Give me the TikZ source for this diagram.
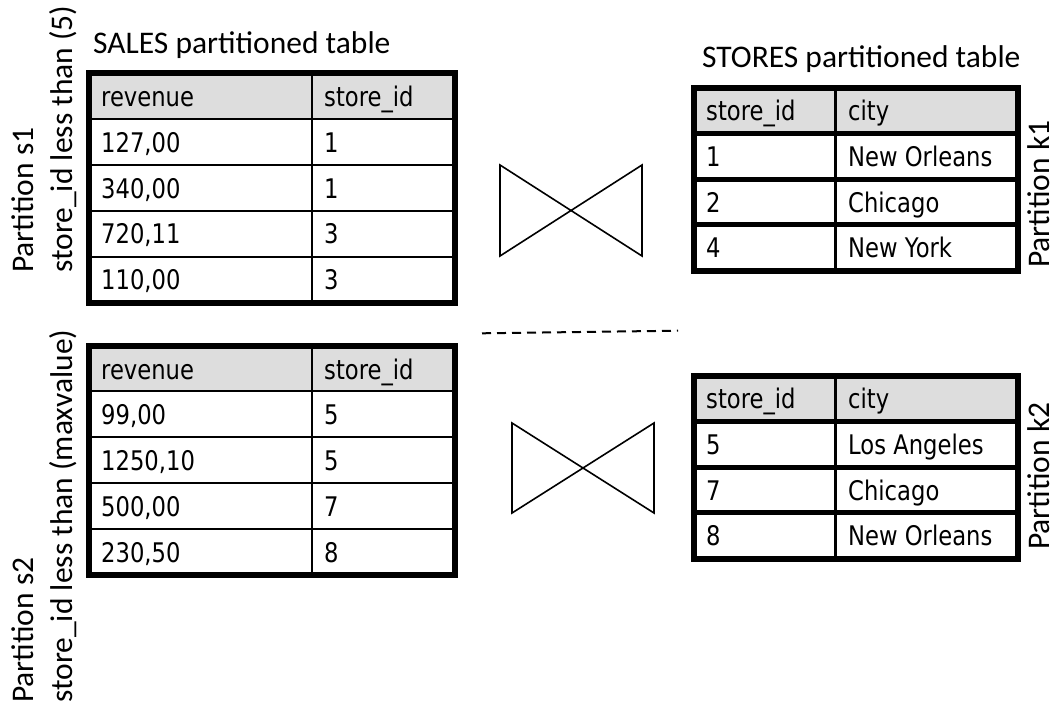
\documentclass[tikz,border=0pt]{standalone}
\usepackage{fontspec}
\setmainfont{Carlito}
\newfontfamily\tabfont[FakeStretch=0.84]{DejaVu Sans}
\definecolor{hdrgray}{RGB}{221,221,221}
\tikzset{
  lbl/.style={inner sep=0pt, anchor=base west, font=\fontsize{31.5}{38}\selectfont},
  vlbl/.style={lbl, rotate=90},
  cell/.style={inner sep=0pt, anchor=base west, font=\tabfont\fontsize{27}{32}\selectfont},
  outerframe/.style={line width=6pt},
  thinrule/.style={line width=2pt},
  thickrule/.style={line width=5pt},
  colrule/.style={line width=3pt},
  bowtie/.style={line width=1.6pt, line join=miter},
  sep/.style={line width=2pt, dash pattern=on 9pt off 6pt},
}
\begin{document}
\begin{tikzpicture}[x=1pt,y=-1pt]
\useasboundingbox (0,0) rectangle (1057,706);

% ---------- SALES partition s1 ----------
\fill[hdrgray] (88.5,73.5) rectangle (454.5,119.3);
\foreach \yy in {119.3,165.1,210.9,256.7} \draw[thinrule] (88.5,\yy) -- (454.5,\yy);
\draw[thinrule] (312,73.5) -- (312,302.5);
\draw[outerframe] (88.5,73.5) rectangle (454.5,302.5);
\node[cell] (sa0a) at (101,106.4) {revenue};
\node[cell] (sa0b) at (324,106.4) {store\_id};
\node[cell] (sa1a) at (101,152.2) {127,00};
\node[cell] (sa1b) at (324,152.2) {1};
\node[cell] (sa2a) at (101,198.0) {340,00};
\node[cell] (sa2b) at (324,198.0) {1};
\node[cell] (sa3a) at (101,243.8) {720,11};
\node[cell] (sa3b) at (324,243.8) {3};
\node[cell] (sa4a) at (101,289.6) {110,00};
\node[cell] (sa4b) at (324,289.6) {3};

% ---------- SALES partition s2 ----------
\fill[hdrgray] (88.5,345.5) rectangle (454.5,391.4);
\foreach \yy in {391.4,437.3,483.2,529.1} \draw[thinrule] (88.5,\yy) -- (454.5,\yy);
\draw[thinrule] (312,345.5) -- (312,575);
\draw[outerframe] (88.5,345.5) rectangle (454.5,575);
\node[cell] (sb0a) at (101,379) {revenue};
\node[cell] (sb0b) at (324,379) {store\_id};
\node[cell] (sb1a) at (101,424.9) {99,00};
\node[cell] (sb1b) at (324,424.9) {5};
\node[cell] (sb2a) at (101,470.8) {1250,10};
\node[cell] (sb2b) at (324,470.8) {5};
\node[cell] (sb3a) at (101,516.7) {500,00};
\node[cell] (sb3b) at (324,516.7) {7};
\node[cell] (sb4a) at (101,562.6) {230,50};
\node[cell] (sb4b) at (324,562.6) {8};

% ---------- STORES partition k1 ----------
\fill[hdrgray] (693.5,88) rectangle (1018,133.6);
\foreach \yy in {133.6,179.2,224.8} \draw[thickrule] (693.5,\yy) -- (1018,\yy);
\draw[colrule] (835.5,88) -- (835.5,270.5);
\draw[outerframe] (693.5,88) rectangle (1018,270.5);
\node[cell] (ka0a) at (706,120.8) {store\_id};
\node[cell] (ka0b) at (848,120.8) {city};
\node[cell] (ka1a) at (706,166.4) {1};
\node[cell] (ka1b) at (848,166.4) {New Orleans};
\node[cell] (ka2a) at (706,212) {2};
\node[cell] (ka2b) at (848,212) {Chicago};
\node[cell] (ka3a) at (706,257.6) {4};
\node[cell] (ka3b) at (848,257.6) {New York};

% ---------- STORES partition k2 ----------
\fill[hdrgray] (693.5,376) rectangle (1018,421.6);
\foreach \yy in {421.6,467.2,512.8} \draw[thickrule] (693.5,\yy) -- (1018,\yy);
\draw[colrule] (835.5,376) -- (835.5,558.5);
\draw[outerframe] (693.5,376) rectangle (1018,558.5);
\node[cell] (kb0a) at (706,408.8) {store\_id};
\node[cell] (kb0b) at (848,408.8) {city};
\node[cell] (kb1a) at (706,454.4) {5};
\node[cell] (kb1b) at (848,454.4) {Los Angeles};
\node[cell] (kb2a) at (706,500) {7};
\node[cell] (kb2b) at (848,500) {Chicago};
\node[cell] (kb3a) at (706,545.6) {8};
\node[cell] (kb3b) at (848,545.6) {New Orleans};

% ---------- titles and labels ----------
\node[lbl] (salesttl) at (93,54) {SALES partitioned table};
\node[lbl] (storesttl) at (702,68) {STORES partitioned table};
\node[vlbl] (ps1) at (33,273) {Partition s1};
\node[vlbl] (ps1b) at (72,273) {store\_id less than (5)};
\node[vlbl] (ps2) at (33,703) {Partition s2};
\node[vlbl] (ps2b) at (72,703) {store\_id less than (maxvalue)};
\node[vlbl] (pk1) at (1049,268) {Partition k1};
\node[vlbl] (pk2) at (1049,550) {Partition k2};

% ---------- join symbols and separator ----------
\draw[bowtie] (500,165) -- (642,256) -- (642,165) -- (500,256) -- cycle;
\draw[bowtie] (512,423) -- (654,513) -- (654,423) -- (512,513) -- cycle;
\coordinate (sepl) at (482,333.3);
\coordinate (sepr) at (678,330.7);
\draw[sep] (sepl) -- (sepr);
\end{tikzpicture}
\end{document}
